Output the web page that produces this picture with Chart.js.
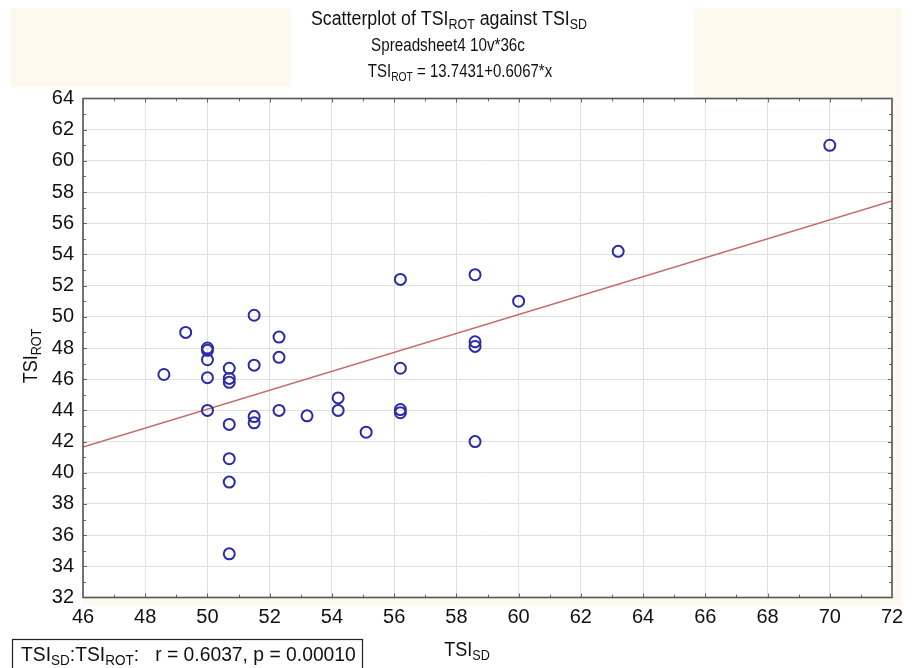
<!DOCTYPE html>
<html>
<head>
<meta charset="utf-8">
<title>Scatterplot of TSI ROT against TSI SD</title>
<script src="https://cdn.jsdelivr.net/npm/chart.js@4.4.1/dist/chart.umd.min.js"></script>
<style>
    html, body { margin: 0; padding: 0; background: #ffffff; }
    #wrap { width: 914px; height: 668px; position: relative; }
</style>
</head>
<body>
<div id="wrap"><canvas id="chart" width="914" height="668"></canvas></div>
<script>
// Scatter values (TSI SD on x, TSI ROT on y)
const tsiSD = [70.0, 63.2, 60.0, 58.6, 58.6, 58.6, 58.6, 56.2, 56.2, 56.2, 56.2, 55.1,
    54.2, 54.2, 53.2, 52.3, 52.3, 52.3, 51.5, 51.5, 51.5, 51.5, 50.7, 50.7, 50.7, 50.7,
    50.7, 50.7, 50.7, 50.0, 50.0, 50.0, 50.0, 50.0, 49.3, 48.6];
const tsiROT = [61.0, 54.2, 51.0, 52.7, 48.4, 48.1, 42.0, 52.4, 46.7, 44.05, 43.85, 42.6,
    44.8, 44.0, 43.65, 48.7, 47.4, 44.0, 50.1, 46.9, 43.6, 43.2, 46.7, 46.05, 45.8, 43.1,
    40.9, 39.4, 34.8, 48.0, 47.85, 47.25, 46.1, 44.0, 49.0, 46.3];

// Fitted line from the title: TSI ROT = 13.7431 + 0.6067 * x
const fitIntercept = 13.7431;
const fitSlope = 0.6067;

const xRange = [46, 72];
const yRange = [32, 64];

const titleLines = ['Scatterplot of TSI_{ROT} against TSI_{SD}', 'Spreadsheet4 10v*36c', 'TSI_{ROT} = 13.7431+0.6067*x'];
const statsText = 'TSI_{SD}:TSI_{ROT}:   r = 0.6037, p = 0.00010';

const FONT = '"Liberation Sans", Arial, sans-serif';
const cream = '#fdf9ee';

// draw text with _{sub} parts; align 'left' or 'center'
function richText(ctx, str, x, y, size, align, squeeze) {
    const parts = [];
    const re = /_\{([^}]*)\}/g;
    let last = 0, m;
    while ((m = re.exec(str)) !== null) {
        if (m.index > last) parts.push({ t: str.slice(last, m.index), sub: false });
        parts.push({ t: m[1], sub: true });
        last = re.lastIndex;
    }
    if (last < str.length) parts.push({ t: str.slice(last), sub: false });

    const subSize = Math.round(size * 0.7);
    let total = 0;
    parts.forEach(p => {
        ctx.font = (p.sub ? subSize : size) + 'px ' + FONT;
        p.w = ctx.measureText(p.t).width;
        total += p.w;
    });
    ctx.save();
    ctx.translate(x, y);
    ctx.scale(squeeze, 1);
    let cx = align === 'center' ? -total / 2 : 0;
    ctx.textBaseline = 'alphabetic';
    ctx.textAlign = 'left';
    parts.forEach(p => {
        ctx.font = (p.sub ? subSize : size) + 'px ' + FONT;
        ctx.fillText(p.t, cx, p.sub ? size * 0.22 : 0);
        cx += p.w;
    });
    ctx.restore();
}

// backdrop panels behind the graph, like the original export
const backdrop = {
    id: 'backdrop',
    beforeDraw(chart) {
        const ctx = chart.ctx;
        const a = chart.chartArea;
        ctx.save();
        ctx.fillStyle = '#ffffff';
        ctx.fillRect(0, 0, chart.width, chart.height);
        ctx.fillStyle = cream;
        ctx.fillRect(10, 8, 281, 79);
        ctx.fillRect(694, 8, 208, 90);
        ctx.fillRect(a.right, a.top, 10, a.bottom - a.top + 8);
        ctx.fillRect(a.left, a.bottom, a.right - a.left, 8);
        ctx.fillStyle = '#ffffff';
        ctx.fillRect(a.left, a.top, a.right - a.left, a.bottom - a.top);
        ctx.restore();
    }
};

// frame, inner ticks, titles and the stats box
const decorations = {
    id: 'decorations',
    afterDraw(chart) {
        const ctx = chart.ctx;
        const a = chart.chartArea;
        const xs = chart.scales.x;
        const ys = chart.scales.y;
        ctx.save();

        // inner tick marks on all four sides
        ctx.strokeStyle = '#666666';
        ctx.lineWidth = 1;
        ctx.beginPath();
        for (let v = xRange[0] + 1; v < xRange[1]; v++) {
            const px = Math.round(xs.getPixelForValue(v)) + 0.5;
            const len = v % 2 === 0 ? 4 : 3;
            ctx.moveTo(px, a.bottom); ctx.lineTo(px, a.bottom - len);
            ctx.moveTo(px, a.top); ctx.lineTo(px, a.top + len);
        }
        for (let v = yRange[0] + 1; v < yRange[1]; v++) {
            const py = Math.round(ys.getPixelForValue(v)) + 0.5;
            const len = v % 2 === 0 ? 4 : 3;
            ctx.moveTo(a.left, py); ctx.lineTo(a.left + len, py);
            ctx.moveTo(a.right, py); ctx.lineTo(a.right - len, py);
        }
        ctx.stroke();

        // plot frame
        ctx.strokeStyle = '#555555';
        ctx.lineWidth = 1.6;
        ctx.strokeRect(a.left, a.top, a.right - a.left, a.bottom - a.top);

        // titles
        ctx.fillStyle = '#111111';
        richText(ctx, titleLines[0], 449, 25, 20, 'center', 0.89);
        richText(ctx, titleLines[1], 448, 51, 19, 'center', 0.8);
        richText(ctx, titleLines[2], 460, 77, 19, 'center', 0.79);

        // axis titles
        richText(ctx, 'TSI_{SD}', 467, 656, 20, 'center', 0.9);
        ctx.save();
        ctx.translate(37, 356);
        ctx.rotate(-Math.PI / 2);
        richText(ctx, 'TSI_{ROT}', 0, 0, 20, 'center', 0.9);
        ctx.restore();

        // stats box
        ctx.strokeStyle = '#222222';
        ctx.lineWidth = 1.2;
        ctx.strokeRect(12.5, 639.5, 350, 32);
        richText(ctx, statsText, 21, 661, 20, 'left', 0.965);

        ctx.restore();
    }
};

const scatterPoints = tsiSD.map((x, i) => ({ x: x, y: tsiROT[i] }));
const fitPoints = xRange.map(x => ({ x: x, y: fitIntercept + fitSlope * x }));

new Chart(document.getElementById('chart'), {
    type: 'scatter',
    data: {
        datasets: [
            {
                label: 'Fit',
                type: 'line',
                data: fitPoints,
                borderColor: '#c46a6a',
                borderWidth: 1.4,
                pointRadius: 0,
                fill: false,
                order: 2
            },
            {
                label: 'TSI ROT',
                data: scatterPoints,
                borderColor: '#2b2ba6',
                backgroundColor: 'rgba(0,0,0,0)',
                borderWidth: 2,
                pointRadius: 5.5,
                pointHoverRadius: 5.5,
                order: 1
            }
        ]
    },
    options: {
        responsive: false,
        animation: false,
        events: [],
        layout: { padding: { left: 0, right: 22, top: 98.5, bottom: 40.5 } },
        plugins: {
            legend: { display: false },
            title: { display: false },
            tooltip: { enabled: false }
        },
        scales: {
            x: {
                type: 'linear',
                min: xRange[0],
                max: xRange[1],
                afterFit(scale) { scale.height = 30; },
                grid: { color: '#e0e0e0', lineWidth: 1, drawTicks: false },
                border: { display: false },
                ticks: {
                    stepSize: 2,
                    padding: 8,
                    color: '#111111',
                    font: { family: FONT, size: 20 }
                }
            },
            y: {
                type: 'linear',
                min: yRange[0],
                max: yRange[1],
                afterFit(scale) { scale.width = 83; },
                grid: { color: '#e0e0e0', lineWidth: 1, drawTicks: false },
                border: { display: false },
                ticks: {
                    stepSize: 2,
                    padding: 9,
                    color: '#111111',
                    font: { family: FONT, size: 20 }
                }
            }
        }
    },
    plugins: [backdrop, decorations]
});
</script>
</body>
</html>
